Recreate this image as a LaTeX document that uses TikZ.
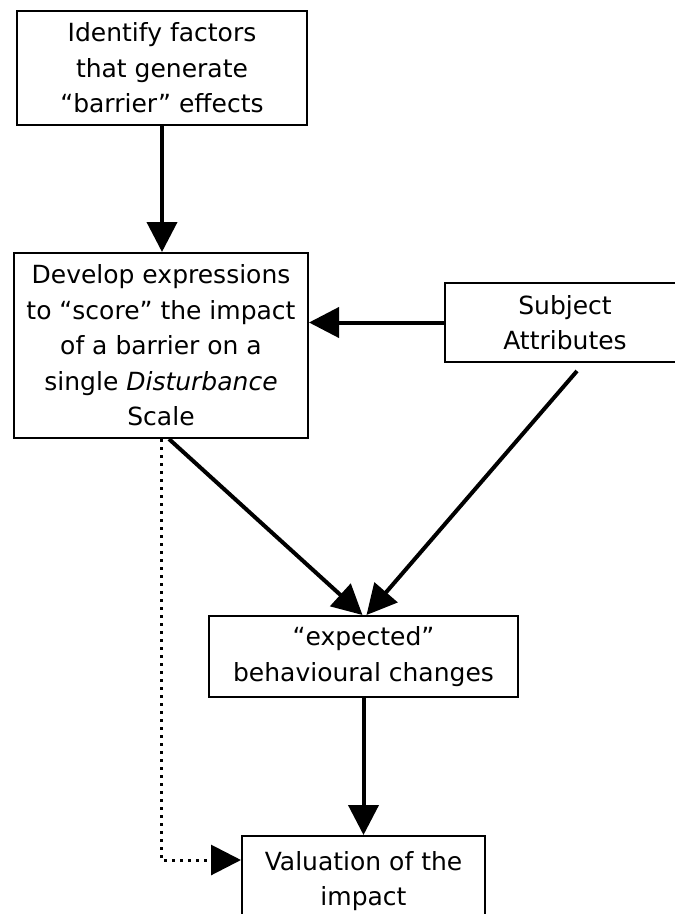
\documentclass[tikz,border=0pt]{standalone}
\usepackage{fontspec}
\setmainfont{DejaVu Sans}
\usetikzlibrary{arrows.meta}
\tikzset{>={Triangle[length=30pt,width=30pt]}}
\tikzset{stepbox/.style={draw, line width=2pt, align=center, inner sep=0pt, font=\fontsize{25}{35.5}\selectfont}}
\tikzset{flow/.style={->, line width=4pt}}
\tikzset{skip/.style={->, line width=3pt, dash pattern=on 3pt off 5pt}}

\begin{document}
\begin{tikzpicture}[x=1pt,y=-1pt]
      \useasboundingbox (0,0) rectangle (675,914);
      \clip (0,0) rectangle (675,914);
      % boxes
      \node[stepbox, minimum width=290pt, minimum height=114pt] (ident) at (162,68) {Identify factors\\that generate\\“barrier” effects};
      \node[stepbox, minimum width=294pt, minimum height=185pt] (develop) at (161,345.5) {Develop expressions\\to “score” the impact\\of a barrier on a\\single \textit{Disturbance}\\Scale};
      \node[stepbox, minimum width=240pt, minimum height=79pt] (subj) at (565,322.5) {Subject\\Attributes};
      \node[stepbox, minimum width=309pt, minimum height=81pt] (expect) at (363.5,656.5) {“expected”\\behavioural changes};
      \node[stepbox, minimum width=243pt, minimum height=90pt] (value) at (363.5,881) {Valuation of the\\impact};
      \coordinate (subjfoot) at ([xshift=12pt,yshift=-8pt]subj.south);
      \coordinate (dotend) at ([yshift=21pt]value.west);
      % connectors
      \draw[flow] (ident.south) -- (ident.south |- develop.north);
      \draw[flow] (subj.west) -- (subj.west -| develop.east);
      \draw[flow] ([xshift=8pt]develop.south) -- ([xshift=-1pt]expect.north);
      \draw[flow] (subjfoot) -- ([xshift=3pt]expect.north);
      \draw[flow] (expect.south) -- (value.north);
      \draw[skip] (develop.south) |- (dotend);
    \end{tikzpicture}
\end{document}
